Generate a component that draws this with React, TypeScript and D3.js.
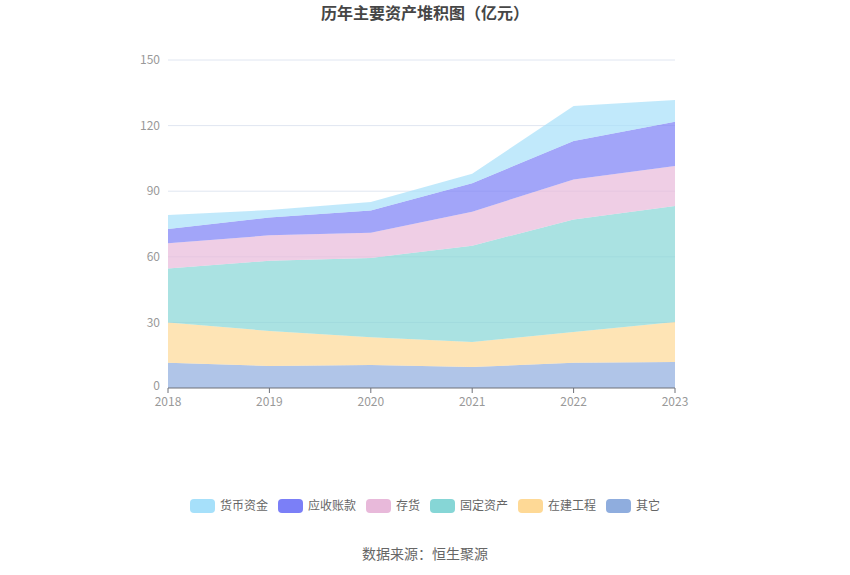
import { useRef, useEffect } from 'react';
import * as d3 from 'd3';

const years = ['2018', '2019', '2020', '2021', '2022', '2023'];
const seriesNames = ['其它', '在建工程', '固定资产', '存货', '应收账款', '货币资金'];
const other = [11.6, 10.1, 10.5, 9.6, 11.6, 11.9];
const construction = [18.4, 16.0, 12.7, 11.4, 14.0, 18.3];
const fixedAssets = [24.6, 32.1, 36.3, 44.1, 51.5, 53.0];
const inventory = [11.6, 11.6, 11.5, 15.5, 18.3, 18.3];
const receivables = [6.5, 8.2, 10.2, 13.0, 17.6, 20.3];
const cash = [6.4, 3.4, 3.9, 4.4, 16.0, 9.9];
const yTicks = [0, 30, 60, 90, 120, 150];
const legendOrder = ['货币资金', '应收账款', '存货', '固定资产', '在建工程', '其它'];

const colors: Record<string, string> = {
  '货币资金': '#a6e0fa',
  '应收账款': '#7b7ff7',
  '存货': '#e8b9da',
  '固定资产': '#86d6d6',
  '在建工程': '#fed996',
  '其它': '#8fadde',
};

const font = '"Noto Sans CJK SC", "Noto Sans", sans-serif';

export default function App() {
  const svgRef = useRef<SVGSVGElement>(null);

  useEffect(() => {
    const svg = d3.select(svgRef.current);
    svg.selectAll('*').remove();

    const W = 850, H = 575;
    const pad = { top: 60, right: 175, bottom: 187, left: 168 };

    const x = d3.scalePoint<string>().domain(years).range([pad.left, W - pad.right]);
    const y = d3.scaleLinear().domain([0, 150]).range([H - pad.bottom, pad.top]);

    const valuesBy: Record<string, number[]> = {
      '其它': other,
      '在建工程': construction,
      '固定资产': fixedAssets,
      '存货': inventory,
      '应收账款': receivables,
      '货币资金': cash,
    };
    const rows = years.map((yr, i) => {
      const r: Record<string, number | string> = { year: yr };
      seriesNames.forEach(s => { r[s] = valuesBy[s][i]; });
      return r;
    });
    const stack = d3.stack<Record<string, number | string>>().keys(seriesNames)
      .value((d, k) => d[k] as number);
    const layers = stack(rows);

    // Title
    svg.append('text').attr('x', 425).attr('y', 19).attr('text-anchor', 'middle')
      .attr('font-family', font).attr('font-size', 16).attr('font-weight', 'bold')
      .attr('fill', '#464646').text('历年主要资产堆积图（亿元）');

    // Grid
    yTicks.forEach(t => {
      if (t > 0) {
        svg.append('line').attr('x1', pad.left).attr('x2', W - pad.right)
          .attr('y1', y(t)).attr('y2', y(t)).attr('stroke', '#e0e6f1').attr('stroke-width', 1);
      }
      svg.append('text').attr('x', pad.left - 8).attr('y', y(t) - (t === 0 ? 2 : 0)).attr('dy', '0.35em')
        .attr('text-anchor', 'end').attr('font-family', font).attr('font-size', 12)
        .attr('fill', '#999').text(t);
    });

    const area = d3.area<d3.SeriesPoint<Record<string, number | string>>>()
      .x(d => x(d.data.year as string)!)
      .y0(d => y(d[0]))
      .y1(d => y(d[1]));

    layers.forEach(layer => {
      svg.append('path').datum(layer).attr('d', area)
        .attr('fill', colors[layer.key]).attr('fill-opacity', 0.7);
    });

    // X axis
    const base = y(0);
    svg.append('line').attr('x1', pad.left).attr('x2', W - pad.right)
      .attr('y1', base).attr('y2', base).attr('stroke', '#6e7079').attr('stroke-width', 1);
    years.forEach(yr => {
      svg.append('line').attr('x1', x(yr)!).attr('x2', x(yr)!)
        .attr('y1', base).attr('y2', base + 5).attr('stroke', '#6e7079');
      svg.append('text').attr('x', x(yr)!).attr('y', base + 18).attr('text-anchor', 'middle')
        .attr('font-family', font).attr('font-size', 12).attr('fill', '#999').text(yr);
    });

    // Legend
    const itemW = 25, itemH = 14, gap = 10, textPad = 5;
    const widths = legendOrder.map(n => itemW + textPad + n.length * 12);
    const total = d3.sum(widths) + gap * (legendOrder.length - 1);
    let lx = 425 - total / 2;
    const ly = 506;
    legendOrder.forEach((n, i) => {
      svg.append('rect').attr('x', lx).attr('y', ly - itemH / 2).attr('width', itemW)
        .attr('height', itemH).attr('rx', 4).attr('fill', colors[n]);
      svg.append('text').attr('x', lx + itemW + textPad).attr('y', ly).attr('dy', '0.35em')
        .attr('font-family', font).attr('font-size', 12).attr('fill', '#666').text(n);
      lx += widths[i] + gap;
    });

    // Source
    svg.append('text').attr('x', 425).attr('y', 554).attr('dy', '0.35em').attr('text-anchor', 'middle')
      .attr('font-family', font).attr('font-size', 14).attr('fill', '#666').text('数据来源：恒生聚源');
  }, []);

  return (
    <svg ref={svgRef} width={850} height={575}
      style={{ display: 'block', position: 'absolute', left: 0, top: 0 }} />
  );
}
